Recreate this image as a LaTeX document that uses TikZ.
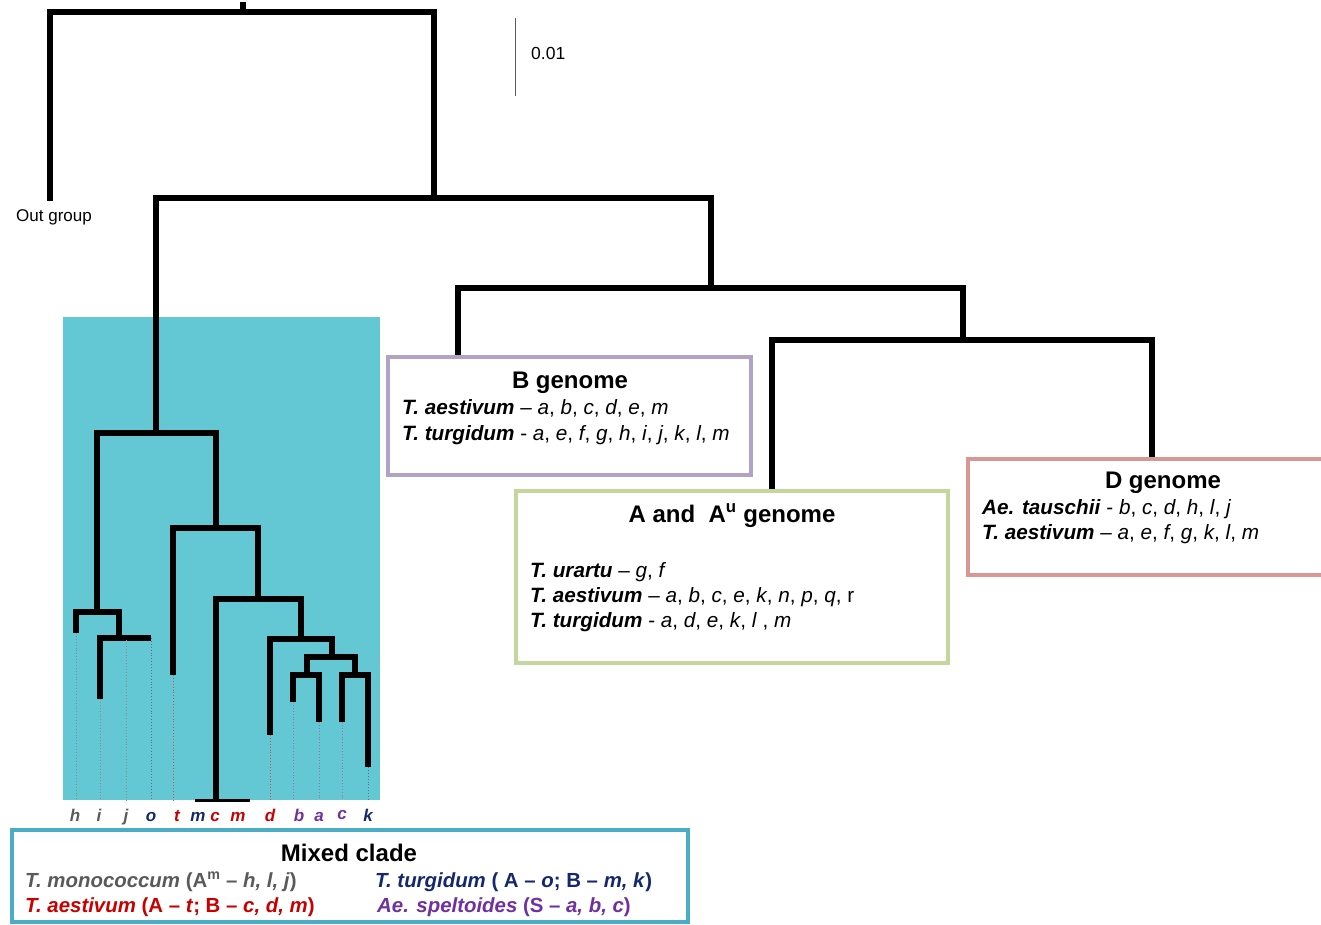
\documentclass[tikz,border=0pt]{standalone}
\usepackage{fontspec}
\setmainfont{Liberation Sans}
\definecolor{cladebg}{RGB}{99,200,212}
\definecolor{bbox}{RGB}{178,162,199}
\definecolor{abox}{RGB}{195,214,155}
\definecolor{dbox}{RGB}{217,150,148}
\definecolor{mbox}{RGB}{75,172,198}
\definecolor{tgray}{RGB}{90,90,90}
\definecolor{tnavy}{RGB}{20,40,110}
\definecolor{tred}{RGB}{200,0,0}
\definecolor{tpurple}{RGB}{112,48,160}
\tikzset{
  br/.style={line width=5.5pt, line join=miter, line cap=rect},
  brm/.style={line width=6pt, line join=miter},
  dots/.style={line width=0.9pt, dotted},
  gbox/.style={line width=3.5pt},
  leaflab/.style={font=\fontsize{17}{20}\selectfont\bfseries\itshape, anchor=base},
  txt/.style={font=\fontsize{20.7}{24}\selectfont, anchor=base west, inner sep=0pt},
  ttl/.style={font=\fontsize{24}{28}\selectfont\bfseries, anchor=base, inner sep=0pt},
}
\begin{document}
\begin{tikzpicture}[x=1pt,y=-1pt]
\useasboundingbox (0,0) rectangle (1321,924);
% mixed clade background
\fill[cladebg] (63,317) rectangle (380,800);
% upper tree coordinates
\coordinate (R0) at (243,12);
\coordinate (Rt) at (243,5);
\coordinate (OG) at (50,198);
\coordinate (N1) at (434,198);
\coordinate (MC) at (156,433);
\coordinate (N2) at (711,288);
\coordinate (Bg) at (458,355);
\coordinate (N3) at (963,340);
\coordinate (Ag) at (772,490);
\coordinate (Dg) at (1152,458);
\draw[br] (Rt) -- (R0);
\draw[br] (OG) |- (R0) -| (N1);
\draw[br] (MC) |- (N1) -| (N2);
\draw[br] (Bg) |- (N2) -| (N3);
\draw[br] (Ag) |- (N3) -| (Dg);
% mixed clade tree
\coordinate (H1) at (97,612);
\coordinate (H2) at (216,528);
\coordinate (G) at (119,638);
\coordinate (H3) at (258,599);
\coordinate (H4) at (301,639);
\coordinate (H5) at (332,657);
\coordinate (H6) at (307,675);
\coordinate (H7) at (355,675);
\coordinate (lh) at (76,633);
\coordinate (li) at (100,699);
\coordinate (lj) at (126,640);
\coordinate (lo) at (151,638);
\coordinate (lt) at (173,675);
\coordinate (lm) at (216,800);
\coordinate (ld) at (270,735);
\coordinate (lb) at (293,702);
\coordinate (la) at (319,722);
\coordinate (lc) at (342,722);
\coordinate (lk) at (368,767);
\draw[brm] (H1) |- (MC) -| (H2);
\draw[brm] (lh) |- (H1) -| (G);
\draw[brm] (li) |- (G) -| (lo);
\draw[line width=4pt] (G) -| (lj);
\draw[brm] (lt) |- (H2) -| (H3);
\draw[brm] (lm) |- (H3) -| (H4);
\draw[brm] (ld) |- (H4) -| (H5);
\draw[brm] (H6) |- (H5) -| (H7);
\draw[brm] (lb) |- (H6) -| (la);
\draw[brm] (lc) |- (H7) -| (lk);
\coordinate (mL) at (195,800);
\coordinate (mR) at (250,800);
\draw[line width=3pt] (mL) -- (mR);
% dotted leaf extensions
\foreach \p/\c in {lh/tgray,li/tgray,lj/tgray,lo/tnavy,lt/tred,ld/tred,lb/tpurple,la/tpurple,lc/tpurple,lk/tnavy}{
  \coordinate (\p e) at (\p |- lm);
  \draw[dots,\c!70] (\p) -- (\p e);
}
% leaf labels
\node[leaflab,text=tgray] (th) at (75,821) {h};
\node[leaflab,text=tgray] (ti) at (99,821) {i};
\node[leaflab,text=tgray] (tj) at (126,821) {j};
\node[leaflab,text=tnavy] (to) at (151,821) {o};
\node[leaflab,text=tred] (tt) at (177,821) {t};
\node[leaflab,text=tnavy] (tm1) at (198,821) {m};
\node[leaflab,text=tred] (tc1) at (215,821) {c};
\node[leaflab,text=tred] (tm2) at (238,821) {m};
\node[leaflab,text=tred] (td) at (270,821) {d};
\node[leaflab,text=tpurple] (tb) at (299,821) {b};
\node[leaflab,text=tpurple] (ta) at (319,821) {a};
\node[leaflab,text=tpurple] (tc2) at (342,819) {c};
\node[leaflab,text=tnavy] (tk) at (368,821) {k};
% out group and scale
\node[font=\fontsize{17}{20}\selectfont, anchor=base west, inner sep=0pt] (og) at (16,221) {Out group};
\coordinate (s1) at (515,18);
\coordinate (s2) at (515,96);
\draw[line width=1pt, black!65] (s1) -- (s2);
\node[font=\fontsize{17.5}{20}\selectfont, anchor=base west, inner sep=0pt] (sc) at (531,59) {0.01};
% B genome box
\draw[gbox,bbox,fill=white] (388,357) rectangle (751,475);
\node[ttl] (bt) at (570,388) {B genome};
\node[txt] (b1) at (402,414) {\textbf{\textit{T. aestivum}} -- \textit{a}, \textit{b}, \textit{c}, \textit{d}, \textit{e}, \textit{m}};
\node[txt] (b2) at (402,440) {\textbf{\textit{T. turgidum}} - \textit{a}, \textit{e}, \textit{f}, \textit{g}, \textit{h}, \textit{i}, \textit{j}, \textit{k}, \textit{l}, \textit{m}};
% A genome box
\draw[gbox,abox,fill=white] (516,491) rectangle (948,663);
\node[ttl] (at) at (732,522) {A and\ \ A\textsuperscript{u} genome};
\node[txt] (a1) at (530,577) {\textbf{\textit{T. urartu}} -- \textit{g}, \textit{f}};
\node[txt] (a2) at (530,602) {\textbf{\textit{T. aestivum}} -- \textit{a}, \textit{b}, \textit{c}, \textit{e}, \textit{k}, \textit{n}, \textit{p}, \textit{q}, r};
\node[txt] (a3) at (530,627) {\textbf{\textit{T. turgidum}} - \textit{a}, \textit{d}, \textit{e}, \textit{k}, \textit{l} , \textit{m}};
% D genome box
\draw[gbox,dbox,fill=white] (968,459) rectangle (1325,575);
\node[ttl] (dt) at (1163,488) {D genome};
\node[txt] (d1) at (982,514) {\textbf{\textit{Ae. tauschii}} - \textit{b}, \textit{c}, \textit{d}, \textit{h}, \textit{l}, \textit{j}};
\node[txt] (d2) at (982,539) {\textbf{\textit{T. aestivum}} -- \textit{a}, \textit{e}, \textit{f}, \textit{g}, \textit{k}, \textit{l}, \textit{m}};
% Mixed clade box
\draw[gbox,mbox,fill=white] (12,830) rectangle (688,922);
\node[ttl] (mt) at (349,861) {Mixed clade};
\begin{scope}[every node/.style={font=\fontsize{20.4}{24}\selectfont\bfseries, anchor=base west, inner sep=0pt}]
\node[text=tgray] (m1) at (25,887) {\textit{T. monococcum} (A\textsuperscript{m} -- \textit{h, l, j})};
\node[text=tnavy] (m2) at (375,887) {\textit{T. turgidum} ( A -- \textit{o}; B -- \textit{m, k})};
\node[text=tred] (m3) at (25,912) {\textit{T. aestivum} (A -- \textit{t}; B -- \textit{c, d, m})};
\node[text=tpurple] (m4) at (377,912) {\textit{Ae. speltoides} (S -- \textit{a, b, c})};
\end{scope}
\end{tikzpicture}
\end{document}
